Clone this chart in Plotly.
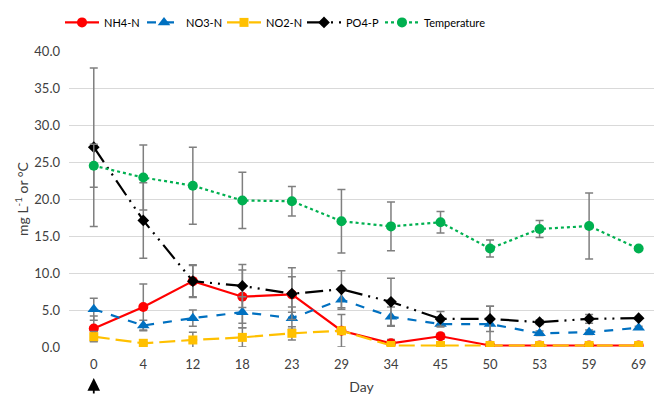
import plotly.graph_objects as go

days = ["0", "4", "12", "18", "23", "29", "34", "45", "50", "53", "59", "69"]

nh4 = [2.5, 5.4, 8.9, 6.8, 7.1, 2.2, 0.5, 1.45, 0.2, 0.2, 0.2, 0.2]
nh4_err = [1.7, 3.1, 2.2, 3.6, 2.4, 2.2, 0.5, 0.4, 0.1, 0.1, 0.1, 0.1]

no3 = [5.1, 2.9, 3.9, 4.7, 3.9, 6.4, 4.1, 3.1, 3.1, 1.85, 2.0, 2.6]
no3_err = [1.5, 0.7, 1.1, 2.1, 1.5, 1.3, 1.3, 0.4, 2.4, 0.3, 0.3, 0.2]

no2 = [1.4, 0.5, 0.95, 1.3, 1.85, 2.2, 0.2, 0.2, 0.2, 0.2, 0.2, 0.2]
no2_err = [0.7, 0.2, 1.05, 1.3, 0.9, 0.3, 0.2, 0.1, 0.1, 0.1, 0.1, 0.1]

po4 = [27.0, 17.1, 8.9, 8.25, 7.2, 7.8, 6.1, 3.8, 3.8, 3.35, 3.8, 3.9]
po4_err = [10.7, 5.1, 2.1, 2.9, 3.5, 2.5, 3.2, 1.0, 1.7, 0.3, 0.6, 0.0]

temp = [24.5, 22.9, 21.8, 19.8, 19.7, 17.0, 16.3, 16.85, 13.3, 15.95, 16.35, 13.3]
temp_err = [2.9, 4.4, 5.2, 3.8, 2.0, 4.3, 3.3, 1.45, 1.15, 1.15, 4.45, 0.0]

FONT = "Lato"
GRAY = "#7f7f7f"
W, H = 654, 395

def err(vals):
    return dict(type="data", array=vals, visible=True, color=GRAY, thickness=1.5, width=4)

series = [
    ("NH4-N", nh4, nh4_err, "#ff0000", "solid", "circle", 10),
    ("NO3-N", no3, no3_err, "#0070c0", "dash", "triangle-up", 11),
    ("NO2-N", no2, no2_err, "#ffc000", "16px,6px", "square", 9),
    ("PO4-P", po4, po4_err, "#000000", "18px,6px,2px,6px,2px,6px", "diamond", 9),
    ("Temperature", temp, temp_err, "#00b050", "dot", "circle", 10),
]

# legend text start positions (px) as in the reference
legend_px = [98, 180, 260, 340, 418]

fig = go.Figure()
legends = {}
for i, (name, y, e, color, dash, sym, ms) in enumerate(series):
    lg = "legend" if i == 0 else f"legend{i + 1}"
    fig.add_trace(go.Scatter(
        x=days, y=y, name=name, mode="lines+markers",
        line=dict(color=color, width=2.2, dash=dash),
        marker=dict(color=color, symbol=sym, size=ms),
        error_y=err(e), legend=lg,
    ))
    legends[lg] = dict(orientation="h", x=(legend_px[i] - 38) / W, xanchor="left",
                       y=0.98, yanchor="top", xref="container", yref="container",
                       font=dict(size=11, color="#000000"), itemwidth=34,
                       bgcolor="rgba(0,0,0,0)")

fig.add_annotation(
    x="0", y=-0.105, xref="x", yref="paper", text="", showarrow=True,
    ax=0, ay=18, arrowhead=2, arrowsize=1.4, arrowwidth=1.8, arrowcolor="#000000",
)

fig.update_layout(
    width=W, height=H,
    margin=dict(l=69, r=0, t=51, b=48, autoexpand=False),
    paper_bgcolor="white", plot_bgcolor="white",
    font=dict(family=FONT, size=13, color="#404040"),
    showlegend=True,
    xaxis=dict(type="category", range=[-0.5, 11.31], showgrid=False, zeroline=False,
               showline=False, ticks="", ticklabelstandoff=8,
               tickfont=dict(size=13, color="#404040"),
               title=dict(text="Day", standoff=12, font=dict(size=14, color="#404040"))),
    yaxis=dict(range=[0, 40], dtick=5, tickformat=".1f", showgrid=True,
               gridcolor="#d9d9d9", gridwidth=1.2, zeroline=False, showline=False,
               ticks="", ticklabelstandoff=8, tickfont=dict(size=13, color="#404040"),
               title=dict(text="mg L<sup>-1</sup> or °C", standoff=2,
                          font=dict(size=14, color="#404040"))),
    **legends,
)

fig.write_html("out.html")
